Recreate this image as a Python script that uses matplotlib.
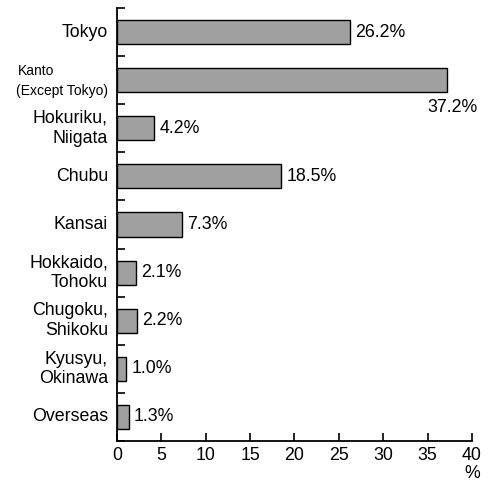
import numpy as np
import matplotlib
matplotlib.use("Agg")
import matplotlib.pyplot as plt
import matplotlib.transforms as mtransforms

regions = ['Tokyo', 'Kanto\n(Except Tokyo)', 'Hokuriku,\nNiigata', 'Chubu', 'Kansai',
           'Hokkaido,\nTohoku', 'Chugoku,\nShikoku', 'Kyusyu,\nOkinawa', 'Overseas']
shares = [26.2, 37.2, 4.2, 18.5, 7.3, 2.1, 2.2, 1.0, 1.3]
xticks = [0, 5, 10, 15, 20, 25, 30, 35, 40]

plt.rcParams['font.family'] = ['Liberation Sans', 'DejaVu Sans']
fs = 12.8

fig = plt.figure(figsize=(4.97, 4.82), dpi=100)
ax = fig.add_axes([0.2354, 0.0851, 0.7143, 0.8983])

ypos = np.arange(len(regions))
ax.barh(ypos, shares, height=0.5, color='#a0a0a0', edgecolor='black', linewidth=1.0)

ax.set_xlim(0, 40)
ax.set_ylim(len(regions) - 0.5, -0.5)

for s in ['top', 'right']:
    ax.spines[s].set_visible(False)
for s in ['left', 'bottom']:
    ax.spines[s].set_linewidth(1.3)

ax.set_xticks(xticks)
ax.set_xticklabels([str(t) for t in xticks], fontsize=fs)
ax.tick_params(axis='x', direction='in', length=6, width=1.2, pad=4)

ax.set_yticks(np.arange(-0.5, len(regions), 1.0))
ax.set_yticklabels([])
ax.tick_params(axis='y', direction='in', length=6, width=1.2)

trans = mtransforms.blended_transform_factory(fig.transFigure, ax.transData)
for i, name in enumerate(regions):
    if i == 1:
        # condensed two-line label in the original
        ax.text(18 / 497, i - 0.2, 'Kanto', transform=trans, ha='left', va='center',
                fontsize=10)
        ax.text(108 / 497, i + 0.22, '(Except Tokyo)', transform=trans, ha='right', va='center',
                fontsize=10)
    else:
        ax.text(108 / 497, i, name, transform=trans, ha='right', va='center',
                fontsize=fs, linespacing=1.2)

for i, v in enumerate(shares):
    if i == 1:
        ax.annotate('%.1f%%' % v, xy=(v, i), xytext=(22, -20), textcoords='offset points',
                    ha='right', va='center', fontsize=fs)
    else:
        ax.annotate('%.1f%%' % v, xy=(v, i), xytext=(4, 0), textcoords='offset points',
                    ha='left', va='center', fontsize=fs)

ax.text(40, -24 / 433, '%', transform=mtransforms.blended_transform_factory(ax.transData, ax.transAxes),
        ha='center', va='top', fontsize=fs)

fig.savefig('out.png', dpi=100)
